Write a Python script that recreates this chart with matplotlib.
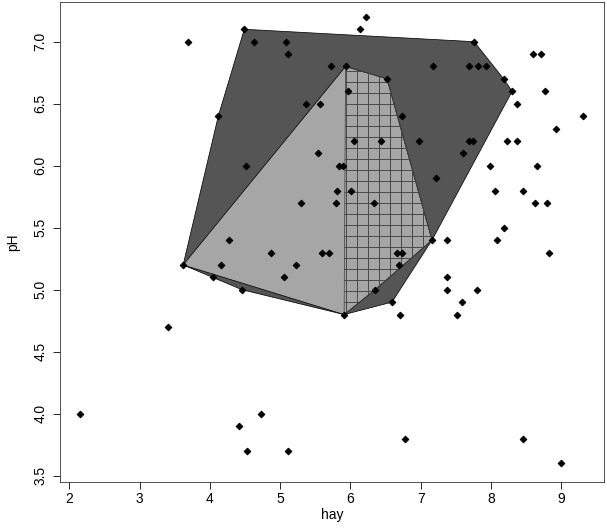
import numpy as np
import matplotlib.pyplot as plt
from matplotlib.patches import Polygon

# hay yield vs soil pH
hay = [2.15, 3.41, 3.69, 3.62, 4.12, 4.05, 4.16, 4.27, 4.49, 4.63,
       4.52, 4.46, 4.42, 4.53, 4.73, 4.87, 5.09, 5.11, 5.05, 5.11,
       5.22, 5.30, 5.37, 5.57, 5.54, 5.59, 5.69, 5.72, 5.93, 6.22,
       6.13, 5.97, 6.52, 6.05, 6.44, 5.84, 5.90, 5.81, 6.01, 5.80,
       6.33, 6.73, 6.97, 7.18, 7.21, 6.66, 6.74, 6.69, 7.16, 7.37,
       6.35, 6.59, 5.91, 6.70, 7.38, 7.38, 6.77, 7.76, 8.60, 8.71,
       7.68, 7.81, 7.93, 8.18, 8.30, 8.77, 8.37, 9.31, 8.92, 7.69,
       7.74, 8.22, 8.37, 7.60, 7.99, 8.66, 8.05, 8.46, 8.63, 8.79,
       8.19, 8.08, 8.83, 7.80, 7.58, 7.51, 8.46, 8.99]
pH = [4.0, 4.7, 7.0, 5.2, 6.4, 5.1, 5.2, 5.4, 7.1, 7.0,
      6.0, 5.0, 3.9, 3.7, 4.0, 5.3, 7.0, 6.9, 5.1, 3.7,
      5.2, 5.7, 6.5, 6.5, 6.1, 5.3, 5.3, 6.8, 6.8, 7.2,
      7.1, 6.6, 6.7, 6.2, 6.2, 6.0, 6.0, 5.8, 5.8, 5.7,
      5.7, 6.4, 6.2, 6.8, 5.9, 5.3, 5.3, 5.2, 5.4, 5.4,
      5.0, 4.9, 4.8, 4.8, 5.1, 5.0, 3.8, 7.0, 6.9, 6.9,
      6.8, 6.8, 6.8, 6.7, 6.6, 6.6, 6.5, 6.4, 6.3, 6.2,
      6.2, 6.2, 6.2, 6.1, 6.0, 6.0, 5.8, 5.8, 5.7, 5.7,
      5.5, 5.4, 5.3, 5.0, 4.9, 4.8, 3.8, 3.6]

# hull vertices (hay, pH)
outer_hay = [4.49, 7.76, 8.18, 8.30, 7.16, 6.59, 5.91, 4.46, 3.62, 4.12]
outer_ph = [7.1, 7.0, 6.7, 6.6, 5.4, 4.9, 4.8, 5.0, 5.2, 6.4]
mid_hay = [3.62, 5.93, 6.52, 7.16, 6.35, 5.91]
mid_ph = [5.2, 6.8, 6.7, 5.4, 5.0, 4.8]
inner_hay = [5.93, 6.52, 7.16, 6.35, 5.91]
inner_ph = [6.8, 6.7, 5.4, 5.0, 4.8]

DPI = 66  # makes the '+' hatch land at ~11 px spacing
plt.rcParams['font.family'] = ['Liberation Sans', 'DejaVu Sans']
plt.rcParams['hatch.linewidth'] = 1.0

fig = plt.figure(figsize=(607 / DPI, 530 / DPI), dpi=DPI)
ax = fig.add_axes([60 / 607, 48 / 530, 544 / 607, 480 / 530])

ax.add_patch(Polygon(np.column_stack([outer_hay, outer_ph]), closed=True,
                     facecolor='#555555', edgecolor='black', linewidth=0.8, zorder=1))
ax.add_patch(Polygon(np.column_stack([mid_hay, mid_ph]), closed=True,
                     facecolor='#a6a6a6', edgecolor='black', linewidth=0.8, zorder=2))
ax.add_patch(Polygon(np.column_stack([inner_hay, inner_ph]), closed=True,
                     facecolor='none', edgecolor='#444444', hatch='+', linewidth=0.8, zorder=3))

ax.plot(hay, pH, linestyle='none', marker='D', markersize=5.2, color='black', zorder=4)

ax.set_xlim(1.868, 9.607)
ax.set_ylim(3.45, 7.32)
ax.set_xticks(range(2, 10))
ax.set_yticks([3.5, 4.0, 4.5, 5.0, 5.5, 6.0, 6.5, 7.0])
ax.set_yticklabels(['3.5', '4.0', '4.5', '5.0', '5.5', '6.0', '6.5', '7.0'],
                   rotation=90, va='center')
ax.tick_params(direction='out', length=8, width=0.9, labelsize=15, pad=3)
ax.tick_params(axis='y', pad=6)
for s in ax.spines.values():
    s.set_linewidth(0.9)
    s.set_color('#333333')

ax.set_xlabel('hay', fontsize=15, labelpad=2)
ax.set_ylabel('pH', fontsize=15, labelpad=14)

fig.savefig('out.png', dpi=DPI)
